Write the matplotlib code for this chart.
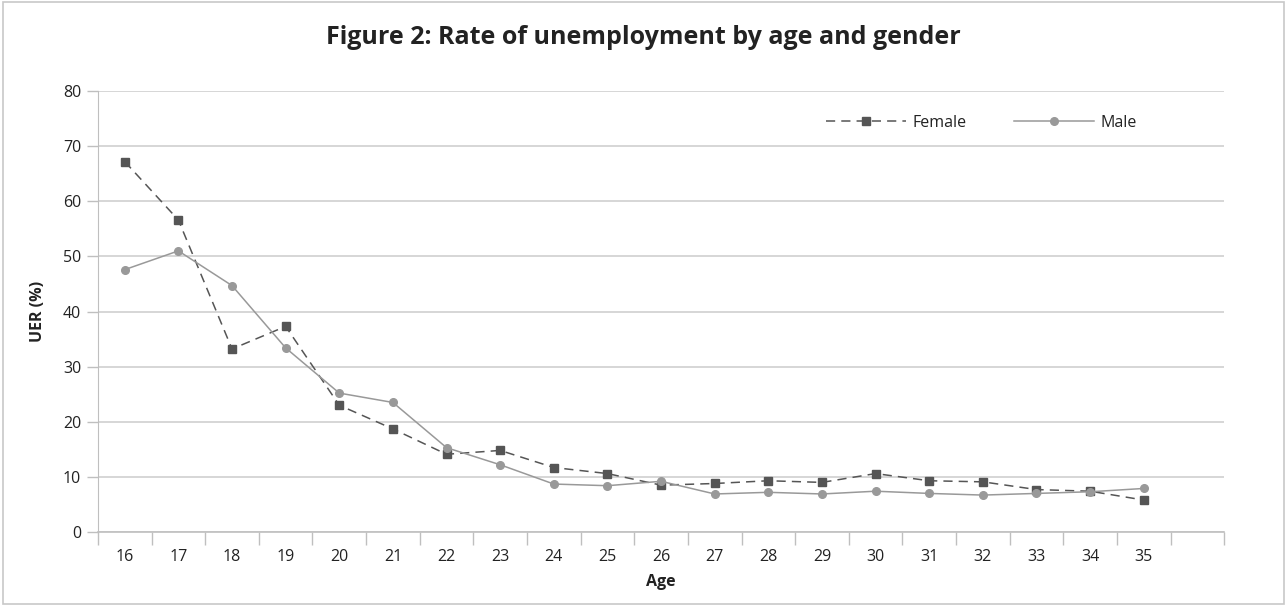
import matplotlib.pyplot as plt
from matplotlib.patches import Rectangle

ages = [str(a) for a in range(16, 36)]
female = [67.2, 56.6, 33.2, 37.3, 23.0, 18.7, 14.1, 14.8, 11.7, 10.6,
          8.5, 8.8, 9.3, 9.0, 10.6, 9.3, 9.1, 7.7, 7.4, 5.8]
male = [47.6, 51.0, 44.7, 33.4, 25.2, 23.5, 15.3, 12.2, 8.7, 8.4,
        9.2, 6.9, 7.2, 6.9, 7.4, 7.0, 6.7, 7.0, 7.3, 7.9]

plt.rcParams['font.family'] = ['Open Sans', 'DejaVu Sans']

fig = plt.figure(figsize=(12.87, 6.06), dpi=100)
ax = fig.add_axes([0.0761, 0.1221, 0.8751, 0.7277])

fig.patches.append(Rectangle((0.002, 0.003), 0.996, 0.994, transform=fig.transFigure,
                             fill=False, edgecolor='#c8c8c8', linewidth=1.2))

x = [i + 0.5 for i in range(len(ages))]
ax.plot(x, female, color='#555555', linestyle=(0, (6, 4)), linewidth=1.1,
        marker='s', markersize=6, label='Female')
ax.plot(x, male, color='#999999', linestyle='-', linewidth=1.1,
        marker='o', markersize=5.5, label='Male')

ax.set_xlim(0, len(ages) + 1)
ax.set_ylim(0, 80)
ax.set_yticks(range(0, 81, 10))
ax.set_xticks(range(0, len(ages) + 2))
ax.set_xticklabels([])
ax.set_xticks(x, minor=True)
ax.set_xticklabels(ages, minor=True)
ax.tick_params(axis='x', which='major', length=9, color='#bfbfbf', width=1)
ax.tick_params(axis='x', which='minor', length=0, pad=12, labelsize=11.5, labelcolor='#222222')
ax.tick_params(axis='y', length=8, color='#bfbfbf', width=1, labelsize=11.5, labelcolor='#222222', pad=4)

ax.yaxis.grid(True, color='#d0d0d0', linewidth=1.2)
ax.set_axisbelow(True)
for s in ['top', 'right']:
    ax.spines[s].set_visible(False)
ax.spines['left'].set_color('#bfbfbf')
ax.spines['bottom'].set_color('#bfbfbf')
ax.spines['bottom'].set_linewidth(1.2)

ax.set_xlabel('Age', fontsize=11.5, fontweight='bold', color='#222222', labelpad=7)
ax.set_ylabel('UER (%)', fontsize=11.5, fontweight='bold', color='#222222', labelpad=12)
fig.suptitle('Figure 2: Rate of unemployment by age and gender', fontsize=18,
             fontweight='bold', color='#222222', y=0.958)

ax.legend(loc='upper right', bbox_to_anchor=(0.928, 0.96), ncol=2, frameon=False,
          borderaxespad=0, fontsize=11.5, handlelength=5, handletextpad=0.4,
          columnspacing=3, labelcolor='#222222')

fig.savefig('out.png', dpi=100)
